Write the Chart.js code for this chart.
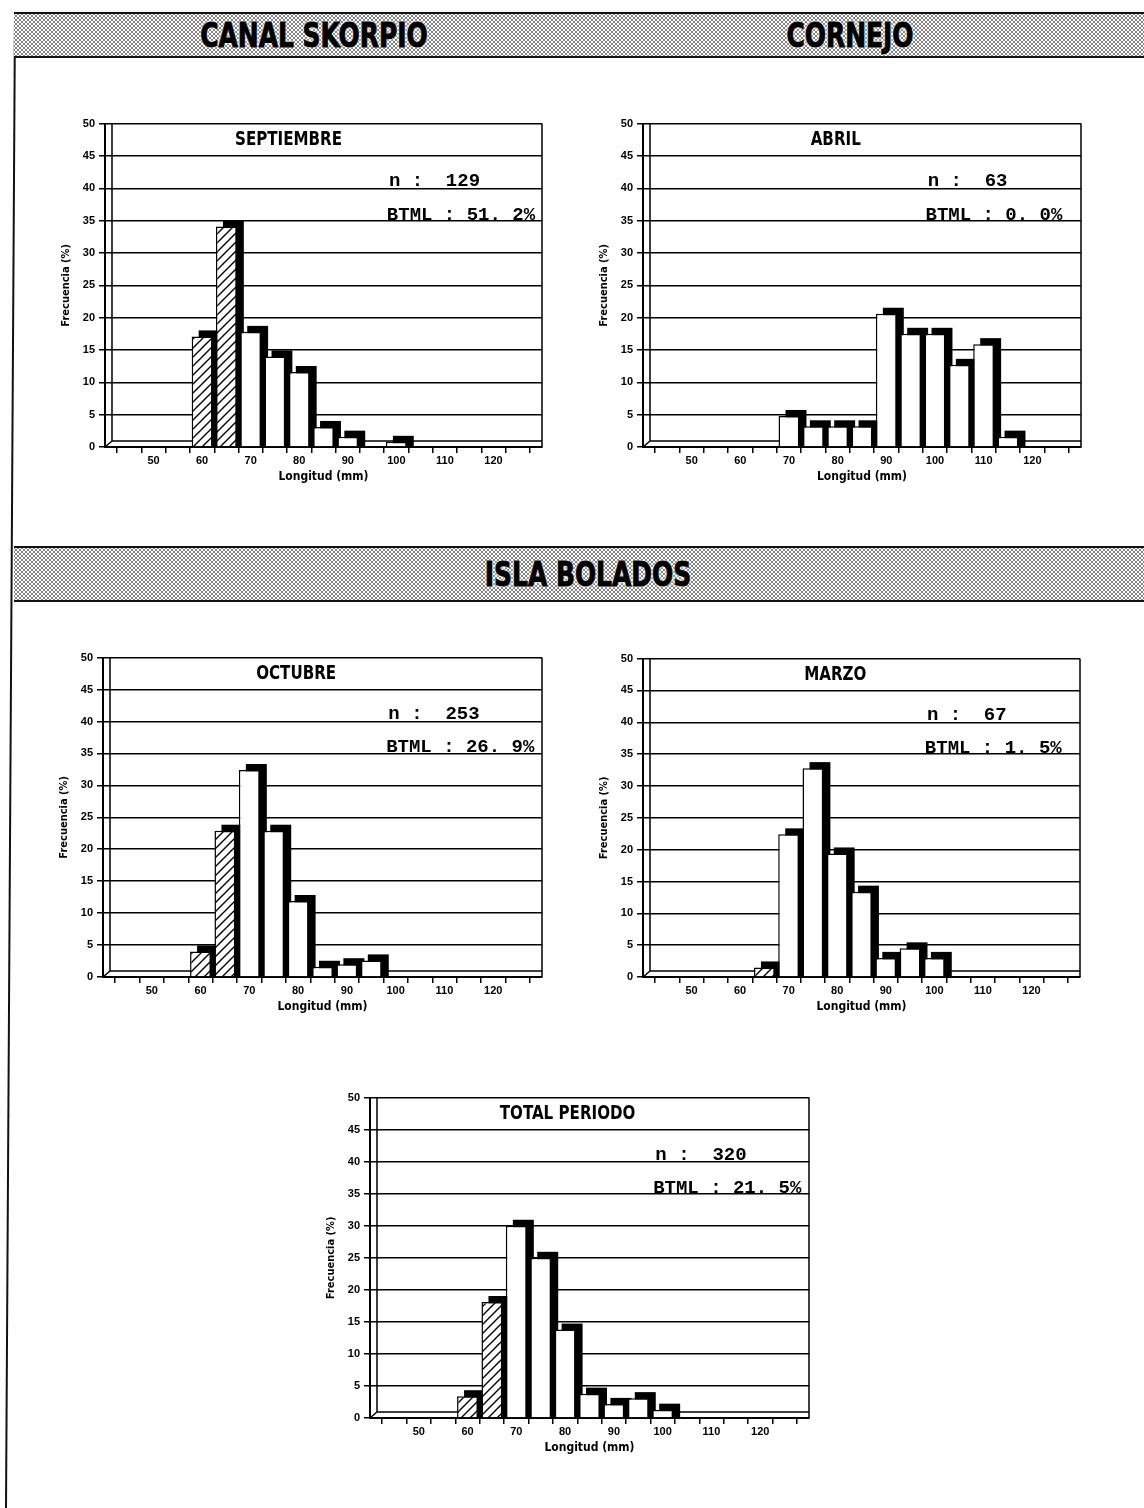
<!DOCTYPE html>
<html>
<head>
<title>Frecuencia de longitudes</title>
<script src="https://cdn.jsdelivr.net/npm/chart.js"></script>
<style>
  body { margin: 0; width: 1144px; height: 1508px; background: #fff; position: relative; overflow: hidden; }
  .band {
    position: absolute; left: 14px; right: 0;
    border-top: 2px solid #111; border-bottom: 2px solid #111;
    background-color: #fff;
    background-image: radial-gradient(circle, #555 0.6px, transparent 1px),
      radial-gradient(circle, #555 0.6px, transparent 1px);
    background-size: 4px 4px;
    background-position: 0 0, 2px 2px;
  }
  .band span {
    position: absolute; top: 50%; transform: translate(-50%, -50%) scaleX(0.84);
    font-family: "Liberation Sans Narrow", "DejaVu Sans Condensed", sans-serif;
    font-weight: bold; font-size: 33px; color: #000; white-space: nowrap;
    -webkit-text-stroke: 1px #000;
    text-shadow: 0 0 2px #fff, 0 0 3px #fff, 0 0 3px #fff;
  }
  .box { position: absolute; }
  svg.edge { position: absolute; left: 0; top: 0; }
</style>
</head>
<body>
<svg class="edge" width="30" height="1508"><line x1="15" y1="12" x2="6" y2="1508" stroke="#111" stroke-width="2"/></svg>
<div class="band" style="top:12px;height:42px">
  <span style="left:300px">CANAL SKORPIO</span>
  <span style="left:836px">CORNEJO</span>
</div>
<div class="band" style="top:546px;height:52px">
  <span style="left:574px">ISLA BOLADOS</span>
</div>

<div class="box" style="left:50px;top:113px"><canvas id="c1" width="500" height="374"></canvas></div>
<div class="box" style="left:588px;top:113px"><canvas id="c2" width="500" height="374"></canvas></div>
<div class="box" style="left:48px;top:647px"><canvas id="c3" width="500" height="370"></canvas></div>
<div class="box" style="left:588px;top:648px"><canvas id="c4" width="500" height="369"></canvas></div>
<div class="box" style="left:315px;top:1087px"><canvas id="c5" width="496" height="371"></canvas></div>

<script>
  // length classes (mm), 5 mm bins
  const bins = [40, 45, 50, 55, 60, 65, 70, 75, 80, 85, 90, 95, 100, 105, 110, 115, 120, 125, 130];

  // frequency (%) per bin
  const septiembre = [0, 0, 0, 0, 17.1, 34.1, 17.8, 14.0, 11.6, 3.1, 1.6, 0, 0.8, 0, 0, 0, 0, 0, 0];
  const abril = [0, 0, 0, 0, 0, 0, 4.8, 3.2, 3.2, 3.2, 20.6, 17.5, 17.5, 12.7, 15.9, 1.6, 0, 0, 0];
  const octubre = [0, 0, 0, 0, 4.0, 22.9, 32.4, 22.9, 11.9, 1.6, 2.0, 2.6, 0, 0, 0, 0, 0, 0, 0];
  const marzo = [0, 0, 0, 0, 0, 1.5, 22.4, 32.8, 19.4, 13.4, 3.0, 4.5, 3.0, 0, 0, 0, 0, 0, 0];
  const totalPeriodo = [0, 0, 0, 0, 3.4, 18.1, 30.0, 25.0, 13.8, 3.8, 2.2, 3.1, 1.3, 0, 0, 0, 0, 0, 0];

  // bins under minimum legal size (hatched)
  const btmlSept = [60, 65];
  const btmlAbril = [];
  const btmlOct = [60, 65];
  const btmlMarzo = [65];
  const btmlTotal = [60, 65];

  const DX = 7, DY = 6;
  const narrow = '"Liberation Sans Narrow", "DejaVu Sans Condensed", "DejaVu Sans", sans-serif';

  function hatch() {
    const c = document.createElement("canvas");
    c.width = 9; c.height = 9;
    const g = c.getContext("2d");
    g.fillStyle = "#fff";
    g.fillRect(0, 0, 9, 9);
    g.strokeStyle = "#000";
    g.lineWidth = 1.4;
    g.beginPath();
    g.moveTo(-1, 10); g.lineTo(10, -1);
    g.moveTo(-5, 5); g.lineTo(5, -5);
    g.moveTo(4, 14); g.lineTo(14, 4);
    g.stroke();
    return g.createPattern(c, "repeat");
  }

  function makeChart(id, values, btml, panel) {
    const pattern = hatch();
    const fills = bins.map((b) => (btml.includes(b) ? pattern : "#fff"));

    // 3D look: black extrusion behind each bar, back wall and floor
    const depth = {
      id: "depth",
      beforeDatasetsDraw(chart) {
        const { ctx, chartArea: a } = chart;
        ctx.save();
        ctx.strokeStyle = "#000";
        ctx.lineWidth = 1.5;
        ctx.beginPath();
        ctx.moveTo(a.left + DX, a.top);
        ctx.lineTo(a.left + DX, a.bottom - DY);
        ctx.lineTo(a.right, a.bottom - DY);
        ctx.moveTo(a.left, a.bottom);
        ctx.lineTo(a.left + DX, a.bottom - DY);
        ctx.moveTo(a.right, a.top);
        ctx.lineTo(a.right, a.bottom);
        ctx.stroke();
        ctx.fillStyle = "#000";
        chart.getDatasetMeta(0).data.forEach((bar, i) => {
          if (!values[i]) return;
          const p = bar.getProps(["x", "y", "base", "width"], true);
          ctx.fillRect(p.x - p.width / 2 + DX, p.y - DY, p.width, p.base - p.y + DY);
        });
        ctx.restore();
      },
      afterDatasetsDraw(chart) {
        const { ctx, chartArea: a, scales } = chart;
        const w = a.right - a.left;
        const y = scales.y;
        ctx.save();
        ctx.fillStyle = "#000";
        ctx.font = "bold 20px " + narrow;
        ctx.textAlign = "center";
        ctx.textBaseline = "middle";
        ctx.translate(a.left + panel.titleAt * w, y.getPixelForValue(47.5));
        ctx.scale(0.84, 1);
        ctx.fillText(panel.title, 0, 0);
        ctx.restore();
        ctx.save();
        ctx.fillStyle = "#000";
        ctx.font = "bold 19px 'Liberation Mono', 'DejaVu Sans Mono', monospace";
        ctx.textAlign = "left";
        ctx.textBaseline = "alphabetic";
        ctx.fillText("n :", a.left + 0.65 * w, y.getPixelForValue(40) - 2);
        ctx.fillText(panel.n, a.left + 0.78 * w, y.getPixelForValue(40) - 2);
        ctx.fillText("BTML : " + panel.btml, a.left + 0.645 * w, y.getPixelForValue(35) - 1);
        ctx.restore();
      },
    };

    return new Chart(document.getElementById(id), {
      type: "bar",
      data: {
        labels: bins,
        datasets: [
          {
            data: values,
            backgroundColor: fills,
            borderColor: "#000",
            borderWidth: 1.5,
            categoryPercentage: 1,
            barPercentage: 0.86,
          },
        ],
      },
      options: {
        responsive: false,
        animation: false,
        layout: { padding: { top: 10, right: panel.padRight, left: 0, bottom: 0 } },
        plugins: { legend: { display: false }, tooltip: { enabled: false } },
        scales: {
          x: {
            offset: false,
            afterFit: (s) => { s.height = 40; },
            grid: { offset: true, drawOnChartArea: false, drawTicks: true, tickLength: 6, color: "#000", lineWidth: 1.5 },
            border: { display: true, color: "#000", width: 2 },
            ticks: {
              autoSkip: false,
              maxRotation: 0,
              padding: 1,
              color: "#000",
              font: { family: "Liberation Sans", size: 11, weight: "bold" },
              callback: (v, i) => {
                const b = bins[i];
                return b % 10 === 0 && b >= 50 && b <= 120 ? String(b) : "";
              },
            },
            title: {
              display: true,
              text: "Longitud (mm)",
              color: "#000",
              font: { family: narrow, size: 12, weight: "bold" },
              padding: { top: 0, bottom: 3 },
            },
          },
          y: {
            min: 0,
            max: 50,
            afterFit: (s) => { s.width = 55; },
            grid: { color: "#000", lineWidth: 1.5, tickLength: 6 },
            border: { display: true, color: "#000", width: 2 },
            ticks: {
              stepSize: 5,
              padding: 4,
              color: "#000",
              font: { family: "Liberation Sans", size: 11, weight: "bold" },
            },
            title: {
              display: true,
              text: "Frecuencia (%)",
              color: "#000",
              font: { family: narrow, size: 11, weight: "bold" },
              padding: { top: 10, bottom: 0 },
            },
          },
        },
      },
      plugins: [depth],
    });
  }

  makeChart("c1", septiembre, btmlSept, { title: "SEPTIEMBRE", titleAt: 0.42, n: "129", btml: "51. 2%", padRight: 8 });
  makeChart("c2", abril, btmlAbril, { title: "ABRIL", titleAt: 0.44, n: "63", btml: "0. 0%", padRight: 7 });
  makeChart("c3", octubre, btmlOct, { title: "OCTUBRE", titleAt: 0.44, n: "253", btml: "26. 9%", padRight: 6 });
  makeChart("c4", marzo, btmlMarzo, { title: "MARZO", titleAt: 0.44, n: "67", btml: "1. 5%", padRight: 8 });
  makeChart("c5", totalPeriodo, btmlTotal, { title: "TOTAL PERIODO", titleAt: 0.45, n: "320", btml: "21. 5%", padRight: 2 });
</script>
</body>
</html>
